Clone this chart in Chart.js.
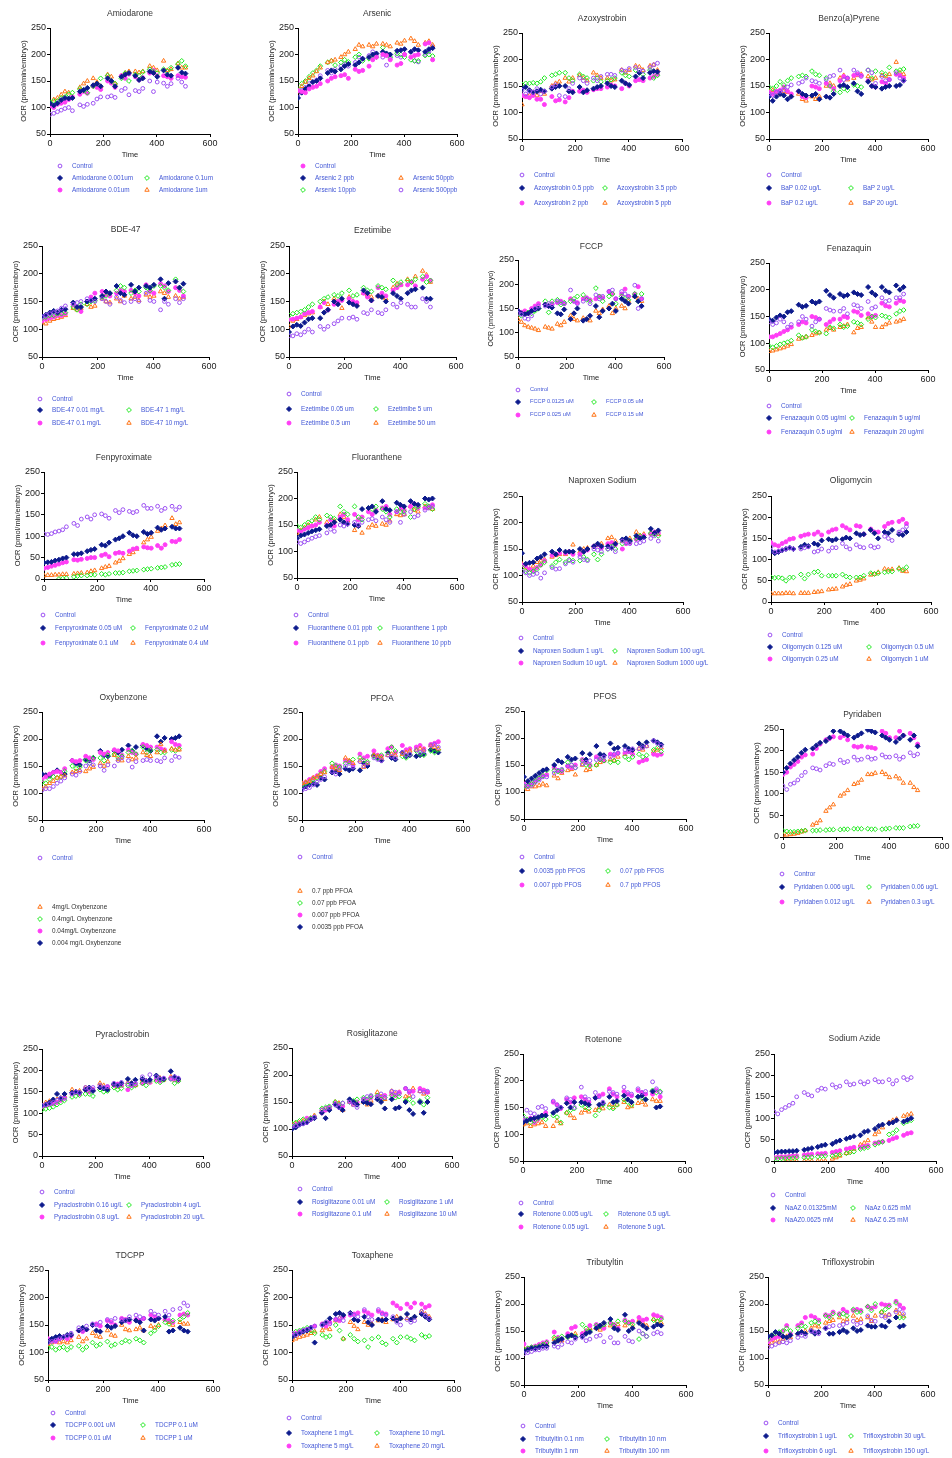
<!DOCTYPE html>
<html>
<head>
<meta charset="utf-8">
<title>OCR by compound</title>
<script src="https://cdn.jsdelivr.net/npm/chart.js@4.4.1/dist/chart.umd.min.js"></script>
<style>
  html, body { margin: 0; padding: 0; background: #fff; overflow: hidden; }
  #page { position: relative; width: 952px; height: 1458px; font-family: 'Liberation Sans', Arial, sans-serif; }
  canvas.plot { position: absolute; }
  .ttl { position: absolute; font-size: 8.5px; color: #333; transform: translate(-50%, -50%); white-space: nowrap; }
  .lg { position: absolute; font-size: 6.4px; color: #4257d6; transform: translateY(-50%); white-space: nowrap; line-height: 1; }
  #marks { position: absolute; left: 0; top: 0; }
</style>
</head>
<body>
<div id="page"><canvas id="marks" width="952" height="1458"></canvas></div>
<script>
'use strict';

// shared time points (min)
const T = [0, 14, 28, 42, 56, 70, 84, 112, 126, 140, 162, 176, 190, 216, 230, 244,
  268, 282, 296, 320, 334, 348, 374, 388, 402, 426, 440, 454, 480, 494, 508];
const xTicks = [0, 200, 400, 600];

// series order in every panel: legend row1, row2 left, row2 right, row3 left, row3 right
const amiodaroneNames = ['Control', 'Amiodarone 0.001um', 'Amiodarone 0.1um', 'Amiodarone 0.01um', 'Amiodarone 1um'];
const amiodaroneY = [
  [87,89,92,95,98,100,94, 105,102,106, 108,116,120, 120,122,119, 132,136,124, 132,130,136, 150,130,148, 146,140,145, 155,148,140],
  [108,104,108,114,118,117,118, 130,133,137, 142,145,140, 155,150,140, 158,162,165, 160,152,155, 168,165,158, 170,162,160, 175,166,164],
  [110,112,112,118,120,125,128, 135,132,128, 140,145,155, 160,150,145, 155,165,150, 162,160,167, 172,168,165, 172,168,175, 182,188,178],
  [103,100,106,108,110,115,120, 125,130,127, 140,138,134, 150,146,138, 160,155,163, 158,152,156, 165,170,160, 160,158,155, 160,158,157],
  [108,115,118,124,130,128,120, 138,145,150, 155,148,140, 162,158,145, 160,165,168, 168,166,168, 178,175,170, 188,170,172, 183,175,175]
];

const arsenicNames = ['Control', 'Arsenic 2 ppb', 'Arsenic 50ppb', 'Arsenic 10ppb', 'Arsenic 500ppb'];
const arsenicY = [
  [132,130,128,135,138,140,145, 150,155,158, 160,162,155, 172,168,170, 178,190,195, 200,198,190, 180,183,200, 195,198,200, 220,222,190],
  [118,128,135,140,148,150,155, 165,170,168, 172,178,182, 180,185,192, 195,200,202, 205,202,200, 207,208,210, 205,210,208, 205,210,212],
  [130,140,148,155,160,168,175, 185,188,190, 195,200,205, 210,218,215, 218,215,220, 220,218,215, 222,220,226, 230,225,218, 222,225,218],
  [135,145,150,158,165,170,178, 185,188,180, 185,190,186, 195,200,188, 192,198,195, 213,200,195, 202,200,195, 190,188,188, 198,200,197],
  [125,132,138,145,148,152,160, 170,165,172, 178,182,178, 185,195,192, 198,205,200, 195,180,192, 198,195,200, 205,188,186, 200,205,215]
];

const azoxystrobinNames = ['Control', 'Azoxystrobin 0.5 ppb', 'Azoxystrobin 3.5 ppb', 'Azoxystrobin 2 ppb', 'Azoxystrobin 5 ppb'];
const azoxystrobinY = [
  [142,135,140,138,145,135,140, 148,152,132, 130,145,155, 165,160,155, 165,160,168, 172,172,170, 180,178,183, 185,180,178, 185,190,193],
  [145,148,142,138,140,143,140, 145,148,150, 150,140,138, 148,138,142, 145,148,150, 155,150,148, 160,155,152, 168,175,165, 175,178,177],
  [153,155,155,156,155,158,165, 170,172,175, 175,165,160, 172,168,165, 160,165,158, 160,162,165, 175,170,168, 180,175,172, 180,165,170],
  [132,130,128,132,125,125,115, 130,122,124, 120,128,140, 140,142,138, 143,145,145, 148,152,150, 145,155,150, 160,162,160, 165,168,172],
  [115,130,132,138,132,140,135, 150,155,158, 165,158,165, 170,165,160, 175,170,165, 165,160,162, 180,175,180, 188,186,180, 188,190,180]
];

const benzopyreneNames = ['Control', 'BaP 0.02 ug/L', 'BaP 2 ug/L', 'BaP 0.2 ug/L', 'BaP 20 ug/L'];
const benzopyreneY = [
  [135,132,138,140,142,148,152, 155,158,165, 160,158,155, 162,168,170, 180,162,165, 180,175,168, 180,175,155, 168,160,162, 175,165,160],
  [130,122,130,135,132,125,130, 140,135,132, 132,135,125, 130,128,135, 150,152,148, 155,140,135, 158,150,148, 145,148,150, 150,152,160],
  [148,145,150,158,152,160,165, 168,170,168, 178,172,170, 165,150,140, 138,145,142, 152,150,148, 180,165,178, 175,172,185, 178,180,182],
  [138,135,140,142,148,140,135, 140,130,128, 150,148,145, 155,150,145, 160,168,165, 170,172,170, 160,150,148, 158,155,162, 172,170,165],
  [140,142,138,135,140,138,132, 135,125,122, 130,125,130, 150,155,150, 165,170,162, 165,170,172, 168,162,165, 170,168,172, 195,175,172]
];

const bde47Names = ['Control', 'BDE-47 0.01 mg/L', 'BDE-47 1 mg/L', 'BDE-47 0.1 mg/L', 'BDE-47 10 mg/L'];
const bde47Y = [
  [122,125,128,130,133,138,142, 145,148,150, 155,152,150, 155,150,145, 158,152,148, 150,155,150, 165,152,150, 135,150,145, 155,148,155],
  [123,126,130,133,130,135,136, 148,140,140, 150,152,155, 160,168,165, 178,165,162, 180,168,175, 178,175,180, 190,155,183, 186,175,182],
  [120,122,125,125,128,128,130, 140,135,145, 145,150,152, 158,160,165, 170,178,175, 165,170,168, 175,170,178, 178,175,170, 190,175,168],
  [115,118,120,122,125,125,128, 145,140,132, 150,158,165, 168,162,160, 165,170,168, 170,165,160, 180,168,165, 182,178,168, 175,170,160],
  [112,110,115,118,120,122,125, 138,135,138, 145,140,142, 155,150,148, 155,150,160, 155,158,152, 162,158,160, 168,165,158, 160,155,158]
];

const ezetimibeNames = ['Control', 'Ezetimibe 0.05 um', 'Ezetimibe 5 um', 'Ezetimibe 0.5 um', 'Ezetimibe 50 um'];
const ezetimibeY = [
  [88,88,92,90,95,100,95, 105,100,105, 110,115,120, 120,122,118, 130,128,135, 130,128,135, 145,140,148, 145,140,140, 155,150,140],
  [95,105,108,106,112,118,120, 120,130,135, 150,145,155, 148,145,142, 170,165,152, 160,158,150, 165,160,155, 165,170,172, 175,155,155],
  [125,128,130,132,135,140,145, 150,155,158, 162,160,165, 170,160,162, 175,170,168, 178,175,172, 188,180,185, 188,185,190, 195,185,188],
  [118,118,120,122,128,130,132, 140,148,135, 145,150,152, 155,150,148, 165,158,152, 175,165,160, 170,175,180, 180,185,178, 190,195,188],
  [105,115,118,122,125,128,130, 140,150,145, 155,148,138, 158,150,145, 165,162,158, 160,158,155, 175,182,180, 190,185,195, 205,198,185]
];

const fccpNames = ['Control', 'FCCP 0.0125 uM', 'FCCP 0.05 uM', 'FCCP 0.025 uM', 'FCCP 0.15 uM'];
const fccpY = [
  [140,138,130,128,135,150,155, 155,160,158, 165,162,160, 188,165,160, 165,170,160, 178,170,175, 185,188,170, 185,180,175, 198,150,170],
  [145,140,138,140,145,148,150, 158,155,152, 140,138,148, 128,140,150, 125,128,135, 155,132,145, 150,160,145, 170,165,160, 175,165,155],
  [140,135,138,142,140,145,150, 165,142,165, 168,158,162, 165,170,175, 178,168,165, 192,175,165, 175,180,160, 175,170,168, 180,165,180],
  [145,142,145,140,150,155,160, 158,155,160, 162,165,160, 170,165,162, 170,172,168, 170,175,172, 185,180,170, 180,190,175, 180,195,170],
  [128,122,115,112,110,108,105, 112,110,108, 118,115,122, 135,128,125, 130,128,125, 145,140,148, 155,140,150, 155,150,165, 175,170,165]
];

const fenazaquinNames = ['Control', 'Fenazaquin 0.05 ug/ml', 'Fenazaquin 5 ug/ml', 'Fenazaquin 0.5 ug/ml', 'Fenazaquin 20 ug/ml'];
const fenazaquinY = [
  [140,135,138,145,140,130,135, 140,150,145, 132,140,145, 165,162,160, 160,165,155, 172,170,165, 178,165,168, 185,178,180, 185,185,192],
  [145,142,148,152,150,158,160, 172,168,170, 178,175,178, 198,190,185, 192,188,190, 195,192,190, 205,195,190, 205,198,195, 208,200,205],
  [95,92,95,98,100,102,105, 115,110,112, 125,122,120, 118,130,128, 135,130,132, 140,138,135, 145,150,148, 152,150,148, 155,160,162],
  [112,112,115,118,122,125,130, 135,140,138, 150,148,145, 135,140,145, 145,150,148, 160,158,152, 155,150,152, 175,170,168, 175,180,178],
  [85,86,88,90,92,95,98, 108,110,112, 115,118,120, 125,128,125, 130,132,135, 120,128,130, 148,140,130, 130,135,138, 140,142,145]
];

const fenpyroximateNames = ['Control', 'Fenpyroximate 0.05 uM', 'Fenpyroximate 0.2 uM', 'Fenpyroximate 0.1 uM', 'Fenpyroximate 0.4 uM'];
const fenpyroximateY = [
  [105,104,106,110,112,115,122, 130,125,140, 145,140,150, 152,148,142, 160,155,162, 158,155,158, 172,165,165, 170,160,165, 170,162,168],
  [38,39,40,43,45,48,50, 58,58,60, 65,68,70, 80,78,85, 92,95,100, 108,102,100, 110,105,108, 120,115,118, 122,118,118],
  [null,null,null,null,0,1,2, 5,7,8, 8,10,10, 12,10,12, 14,14,15, 18,19,20, 22,23,24, 26,27,28, 33,34,35],
  [25,27,30,32,35,38,40, 45,44,46, 48,50,50, 55,58,52, 60,62,60, 65,70,72, 75,73,72, 78,72,80, 88,87,92],
  [8,9,9,10,10,11,11, 12,13,14, 15,18,20, 25,28,30, 38,42,48, 58,62,70, 85,92,98, 112,118,125, 142,128,132]
];

const fluorantheneNames = ['Control', 'Fluoranthene 0.01 ppb', 'Fluoranthene 1 ppb', 'Fluoranthene 0.1 ppb', 'Fluoranthene 10 ppb'];
const fluorantheneY = [
  [118,115,118,122,125,128,130, 135,142,138, 150,148,152, 155,150,155, 160,162,158, 165,160,155, 175,155,170, 175,165,168, 178,182,185],
  [125,130,132,135,138,140,142, 148,150,155, 160,155,152, 150,148,180, 182,185,175, 195,180,178, 192,188,185, 195,190,188, 200,198,200],
  [148,145,150,155,158,165,160, 168,165,162, 185,175,170, 185,165,160, 182,180,185, 180,175,165, 180,175,175, 165,180,185, 190,185,180],
  [140,138,142,145,148,150,155, 150,160,148, 165,170,160, 170,160,165, 175,170,178, 182,185,170, 175,180,178, 185,190,182, 182,185,188],
  [135,140,145,150,148,160,165, 155,150,158, 170,165,158, 140,148,135, 145,150,148, 152,150,158, 170,168,170, 185,178,175, 185,182,180]
];

const naproxenNames = ['Control', 'Naproxen Sodium 1 ug/L', 'Naproxen Sodium 100 ug/L', 'Naproxen Sodium 10 ug/L', 'Naproxen Sodium 1000 ug/L'];
const naproxenY = [
  [108,105,100,102,104,95,105, 115,112,113, 122,128,125, 135,130,128, 150,148,145, 150,152,145, 165,162,160, 160,162,165, 170,175,165],
  [142,122,124,125,132,135,140, 145,140,148, 145,145,145, 150,145,150, 155,160,155, 155,152,160, 168,170,165, 175,170,172, 188,180,185],
  [115,108,105,108,112,120,125, 118,125,130, 125,130,128, 128,135,130, 140,130,140, 150,155,150, 160,162,165, 170,175,172, 180,178,175],
  [120,118,112,110,115,120,128, 138,140,142, 142,145,140, 140,145,148, 155,158,152, 160,162,158, 150,160,162, 168,172,175, 178,182,180],
  [122,115,112,118,125,128,130, 135,138,140, 140,145,158, 145,150,152, 155,158,160, 170,172,165, 165,168,170, 182,175,178, 180,178,178]
];

const oligomycinNames = ['Control', 'Oligomycin  0.125 uM', 'Oligomycin 0.5 uM', 'Oligomycin 0.25 uM', 'Oligomycin 1 uM'];
const oligomycinY = [
  [130,118,120,122,125,128,125, 125,128,130, 118,120,125, 120,128,128, 138,130,125, 135,130,128, 132,128,130, 155,150,145, 165,170,178],
  [120,115,118,122,125,128,125, 130,135,132, 138,135,145, 148,145,148, 148,152,150, 162,158,160, 170,162,150, 165,162,170, 160,158,165],
  [58,57,58,56,50,58,58, 65,55,65, 70,72,62, 62,62,62, 65,60,58, 58,58,62, 68,66,68, 70,72,72, 78,76,82],
  [140,135,132,138,142,148,150, 155,158,160, 160,165,158, 165,170,172, 180,175,170, 180,178,160, 172,165,165, 178,185,188, 190,195,185],
  [20,20,20,20,21,21,20, 21,21,21, 23,24,25, 29,30,31, 36,40,42, 50,52,55, 64,66,70, 78,76,77, 80,73,72]
];

// vertical legends: control, then the four doses top to bottom
const oxybenzoneNames = ['Control', '4mg/L Oxybenzone', '0.4mg/L Oxybenzone', '0.04mg/L Oxybenzone', '0.004 mg/L Oxybenzone'];
const oxybenzoneY = [
  [105,108,108,112,118,122,128, 135,133,140, 150,155,152, 150,142,152, 150,160,165, 160,148,158, 160,162,160, 160,158,165, 160,168,166],
  [108,112,118,122,128,130,132, 138,140,142, 140,145,148, 155,150,158, 170,162,160, 168,162,165, 175,170,168, 175,190,178, 182,180,180],
  [120,118,125,130,128,130,140, 150,145,148, 160,155,165, 165,160,170, 172,165,168, 175,178,172, 185,175,180, 180,175,175, 180,178,182],
  [125,130,135,138,140,138,145, 160,158,160, 168,165,162, 175,172,175, 180,178,170, 180,175,172, 190,188,185, 185,182,180, 195,190,188],
  [135,133,132,138,142,138,135, 160,155,152, 162,160,165, 178,170,168, 178,175,180, 188,178,185, 188,182,178, 205,195,202, 200,202,205]
];

const pfoaNames = ['Control', '0.7 ppb PFOA', '0.07 ppb PFOA', '0.007 ppb PFOA', '0.0035 ppb PFOA'];
const pfoaY = [
  [105,108,110,115,120,125,130, 140,135,145, 150,155,148, 158,150,155, 165,162,160, 170,168,165, 175,170,172, 180,175,178, 188,190,185],
  [118,120,122,128,130,135,138, 148,145,142, 165,160,155, 160,148,155, 170,168,165, 170,172,170, 172,175,178, 180,182,180, 188,185,182],
  [115,118,120,125,128,135,140, 155,150,148, 155,158,162, 165,160,158, 168,165,170, 175,185,178, 168,165,172, 178,172,170, 178,175,180],
  [118,120,125,128,132,140,145, 148,152,150, 160,158,152, 172,165,168, 178,170,168, 182,185,175, 188,180,182, 185,188,182, 190,192,195],
  [108,112,115,118,115,128,125, 138,140,135, 145,142,145, 142,155,150, 170,165,160, 175,165,162, 175,168,170, 168,170,172, 180,178,175]
];

const pfosNames = ['Control', '0.0035 ppb PFOS', '0.07 ppb PFOS', '0.007 ppb PFOS', '0.7 ppb PFOS'];
const pfosY = [
  [112,110,112,118,122,128,128, 135,140,142, 148,150,145, 152,155,158, 160,162,165, 165,170,172, 178,175,180, 180,182,185, 195,190,185],
  [128,120,125,130,135,140,142, 150,158,155, 165,160,162, 172,160,170, 185,170,168, 190,180,182, 185,180,178, 190,185,192, 195,192,188],
  [110,112,115,120,125,130,140, 140,138,140, 155,150,145, 158,150,148, 150,160,158, 155,158,155, 165,160,165, 170,165,168, 178,182,175],
  [115,112,115,120,125,130,132, 145,140,138, 148,145,150, 160,155,150, 165,160,158, 170,168,172, 172,175,170, 155,158,160, 170,168,170],
  [108,105,110,110,112,115,112, 130,125,135, 140,142,132, 150,140,142, 150,155,158, 160,158,165, 170,175,178, 180,178,185, 175,178,182]
];

const pyridabenNames = ['Contror', 'Pyridaben 0.006 ug/L', 'Pyridaben 0.06 ug/L', 'Pyridaben 0.012 ug/L', 'Pyridaben 0.3 ug/L'];
const pyridabenY = [
  [118,110,122,125,132,142,150, 160,158,155, 165,170,168, 178,172,175, 185,178,180, 185,180,182, 190,185,185, 188,180,185, 195,188,192],
  [150,160,170,178,185,195,202, 205,212,218, 222,230,245, 245,240,235, 230,235,240, 248,245,242, 235,230,225, 220,228,235, 225,235,210],
  [14,13,12,12,13,14,15, 15,15,16, 16,17,17, 17,18,18, 19,19,19, 19,18,18, 18,19,20, 21,21,21, 24,25,26],
  [145,150,162,168,175,185,190, 192,205,215, 225,228,232, 230,235,225, 210,208,210, 208,207,205, 245,240,230, 230,245,235, 240,230,215],
  [5,5,6,7,9,12,15, 28,32,38, 60,68,75, 95,100,108, 122,125,132, 145,145,148, 150,145,138, 140,135,125, 125,115,108]
];

const pyraclostrobinNames = ['Control', 'Pyraclostrobin 0.16 ug/L', 'Pyraclostrobin 4 ug/L', 'Pyraclostrobin 0.8 ug/L', 'Pyraclostrobin 20 ug/L'];
const pyraclostrobinY = [
  [118,120,122,125,130,135,135, 145,150,148, 160,158,160, 165,160,162, 170,165,172, 168,165,170, 185,175,190, 185,180,182, 180,185,182],
  [118,120,125,132,145,135,145, 148,150,148, 155,160,152, 160,158,155, 168,165,170, 180,170,178, 180,175,178, 188,180,180, 198,185,180],
  [108,110,112,115,120,125,130, 138,140,142, 145,145,140, 155,150,152, 160,155,158, 165,160,165, 170,165,175, 175,172,178, 180,170,175],
  [115,118,120,122,125,130,135, 145,148,145, 155,150,155, 160,158,162, 165,168,165, 155,165,168, 170,175,172, 178,175,180, 182,178,176],
  [115,125,128,130,132,135,140, 155,150,152, 160,158,155, 170,165,160, 168,162,165, 172,170,165, 178,175,172, 180,182,178, 185,178,180]
];

const rosiglitazoneNames = ['Control', 'Rosiglitazone 0.01 uM', 'Rosiglitazone 1 uM', 'Rosiglitazone 0.1 uM', 'Rosiglitazone 10 uM'];
const rosiglitazoneY = [
  [105,106,108,110,112,118,122, 135,138,140, 145,140,148, 150,145,140, 155,160,162, 160,165,158, 170,168,165, 175,170,160, 170,168,170],
  [100,103,108,110,112,118,120, 130,120,135, 145,140,135, 155,150,145, 150,148,146, 155,150,138, 155,138,140, 150,135,128, 150,130,150],
  [110,112,115,118,115,120,122, 138,140,142, 150,145,148, 150,152,155, 158,155,160, 162,155,158, 162,158,160, 152,155,148, 152,145,158],
  [105,108,110,112,120,118,122, 130,135,138, 148,145,142, 152,148,150, 155,152,158, 160,158,162, 165,162,168, 175,168,170, 175,172,168],
  [108,110,112,115,118,120,125, 135,138,140, 150,148,135, 150,145,148, 150,145,152, 168,160,155, 170,165,168, 160,162,175, 170,165,168]
];

const rotenoneNames = ['Control', 'Rotenone 0.005 ug/L', 'Rotenone 0.5 ug/L', 'Rotenone 0.05 ug/L', 'Rotenone 5 ug/L'];
const rotenoneY = [
  [130,145,140,138,150,152,148, 162,155,150, 168,165,150, 188,170,165, 178,170,160, 180,178,175, 188,178,175, 185,178,180, 198,185,178],
  [122,125,128,130,132,135,135, 140,145,150, 158,150,160, 160,158,155, 168,155,158, 170,160,162, 172,165,160, 170,172,165, 180,150,152],
  [135,128,122,125,130,132,128, 135,132,122, 140,145,148, 155,150,148, 135,145,155, 150,148,155, 165,160,155, 170,168,165, 182,178,180],
  [128,125,130,122,128,135,140, 160,155,148, 165,160,168, 170,165,160, 168,172,175, 185,175,170, 180,175,172, 182,178,175, 175,182,170],
  [118,120,115,118,120,122,115, 115,125,120, 140,135,130, 140,145,142, 145,150,148, 155,150,155, 160,150,152, 158,160,155, 165,162,162]
];

const sodiumAzideNames = ['Control', 'NaAZ 0.01325mM', 'NaAz 0.625 mM', 'NaAZ0.0625 mM', 'NaAZ 6.25 mM'];
const sodiumAzideY = [
  [115,110,120,125,130,135,150, 160,155,152, 165,170,168, 178,172,175, 185,178,180, 185,180,185, 190,185,185, 190,180,188, 195,190,195],
  [20,21,22,22,23,23,24, 26,28,30, 33,36,38, 40,45,48, 52,55,58, 60,68,70, 75,82,85, 88,90,95, 92,96,100],
  [5,5,6,6,7,7,8, 8,9,9, 10,11,12, 12,14,15, 18,20,22, 28,30,32, 38,42,45, 62,65,72, 88,92,95],
  [8,9,10,10,11,12,12, 14,15,16, 17,17,18, 20,22,24, 28,30,32, 32,34,36, 42,44,45, 48,52,55, 60,64,66],
  [null,null,null,0,0,0,0, 0,0,0, 0,0,0, 5,8,12, 18,22,28, 38,42,48, 62,68,78, 90,95,98, 105,108,110]
];

const tdcppNames = ['Control', 'TDCPP 0.001 uM', 'TDCPP 0.1 uM', 'TDCPP 0.01 uM', 'TDCPP 1 uM'];
const tdcppY = [
  [118,120,122,125,128,130,135, 145,140,148, 152,150,155, 160,158,162, 160,158,165, 168,165,162, 175,170,168, 175,168,178, 180,190,185],
  [120,125,128,130,128,132,132, 140,145,142, 150,140,138, 148,145,148, 155,158,160, 158,155,140, 160,158,162, 165,138,140, 145,140,138],
  [108,110,105,108,110,105,110, 112,105,110, 118,112,115, 120,112,115, 118,122,120, 125,122,118, 135,140,148, 155,152,158, 160,165,172],
  [125,122,120,125,128,125,130, 140,138,142, 150,152,148, 158,155,150, 162,160,155, 160,158,162, 168,165,162, 160,158,155, 168,170,168],
  [115,118,120,118,120,118,122, 128,120,125, 135,130,128, 140,132,130, 150,142,140, 142,145,140, 148,145,150, 160,155,150, 155,152,152]
];

const toxapheneNames = ['Control', 'Toxaphene 1 mg/L', 'Toxaphene 10 mg/L', 'Toxaphene 5 mg/L', 'Toxaphene 20 mg/L'];
const toxapheneY = [
  [135,132,135,140,142,145,148, 150,155,152, 160,162,158, 170,168,165, 178,165,160, 178,170,168, 165,155,150, 160,155,158, 175,168,162],
  [128,132,135,138,140,145,118, 150,155,162, 170,172,168, 172,160,158, 165,155,150, 160,158,160, 162,158,162, 170,160,165, 170,165,160],
  [135,138,140,142,145,140,135, 132,128,130, 150,140,125, 132,125,120, 122,110,125, 128,118,115, 125,118,128, 128,125,122, 132,128,130],
  [132,135,138,140,142,145,148, 152,148,155, 160,158,165, 168,170,172, 175,172,168, 175,172,170, 190,185,180, 188,182,190, 188,182,185],
  [122,125,128,130,132,135,138, 140,145,142, 158,162,125, 155,148,142, 155,150,152, 158,160,155, 160,165,162, 162,160,165, 175,170,165]
];

const tributyltinNames = ['Control', 'Tributyltin 0.1 nm', 'Tributyltin 10 nm', 'Tributyltin 1 nm', 'Tributyltin 100 nm'];
const tributyltinY = [
  [108,110,112,115,115,118,118, 122,120,125, 130,128,135, 138,132,135, 140,142,130, 138,128,128, 140,132,130, 150,145,140, 145,148,145],
  [112,115,118,118,120,122,122, 128,132,135, 140,142,138, 140,145,148, 155,160,165, 172,155,152, 180,150,155, 165,160,155, 158,162,160],
  [115,118,120,120,122,125,128, 138,135,140, 138,142,140, 162,155,150, 160,158,162, 165,160,168, 168,165,162, 135,145,140, 170,168,172],
  [126,118,120,122,125,128,130, 148,138,135, 145,155,158, 145,150,160, 162,158,155, 165,162,155, 170,165,168, 175,170,172, 180,178,175],
  [118,115,118,120,122,125,125, 135,132,132, 140,142,145, 145,150,155, 155,152,160, 160,158,162, 160,165,158, 170,165,160, 172,168,165]
];

const trifloxystrobinNames = ['Control', 'Trifloxystrobin 1 ug/L', 'Trifloxystrobin 30 ug/L', 'Trifloxystrobin 6 ug/L', 'Trifloxystrobin 150 ug/L'];
const trifloxystrobinY = [
  [120,122,125,128,130,128,132, 138,142,140, 150,148,145, 155,158,160, 160,162,165, 168,162,165, 178,170,168, 178,175,180, 185,190,182],
  [140,142,148,145,140,138,142, 145,148,145, 150,145,148, 155,145,145, 148,152,148, 155,150,152, 160,158,158, 160,158,168, 175,158,160],
  [135,142,145,148,150,155,150, 155,160,158, 165,168,165, 178,175,182, 180,182,178, 190,185,185, 195,188,200, 185,190,195, 202,175,175],
  [130,135,138,140,150,160,145, 160,165,175, 178,175,170, 180,178,185, 182,190,185, 188,190,188, 195,192,195, 200,198,198, 205,198,192],
  [125,128,132,130,135,140,138, 145,148,150, 155,160,158, 165,168,170, 175,168,172, 178,170,172, 175,168,178, 185,178,180, 188,182,178]
];

// marker styles: c purple open circle, n navy diamond, g green open diamond, m magenta dot, o orange open triangle
const MARKS = {
  c: { pointStyle: 'circle', radius: 1.9, fill: 'rgba(0,0,0,0)', stroke: '#9b4ff2' },
  n: { pointStyle: 'rectRot', radius: 2.5, fill: '#0c1a8c', stroke: '#0c1a8c' },
  g: { pointStyle: 'rectRot', radius: 2.4, fill: 'rgba(0,0,0,0)', stroke: '#1fe81f' },
  m: { pointStyle: 'circle', radius: 2, fill: '#ff3df5', stroke: '#ff3df5' },
  o: { pointStyle: 'triangle', radius: 2.5, fill: 'rgba(0,0,0,0)', stroke: '#ff7417' }
};
const STD = ['c', 'n', 'g', 'm', 'o'];

// layout: plot box [left, right, top, bottom], title y, legend anchors
const panels = [
  { title: 'Amiodarone', names: amiodaroneNames, ys: amiodaroneY, marks: STD, box: [50, 210, 27.7, 134], ymin: 50, ty: 13, lg: [60, 147, [166, 178, 190]] },
  { title: 'Arsenic', names: arsenicNames, ys: arsenicY, marks: ['m', 'n', 'o', 'g', 'c'], box: [297.7, 456.7, 27.7, 134], ymin: 50, ty: 13, lg: [303, 401, [166, 178, 190]] },
  { title: 'Azoxystrobin', names: azoxystrobinNames, ys: azoxystrobinY, marks: STD, box: [522.3, 682, 33, 139.3], ymin: 50, ty: 17.7, lg: [522, 605, [175, 188, 203]] },
  { title: 'Benzo(a)Pyrene', names: benzopyreneNames, ys: benzopyreneY, marks: STD, box: [769.3, 928.7, 33, 139.3], ymin: 50, ty: 17.7, lg: [769, 851, [175, 188, 203]] },
  { title: 'BDE-47', names: bde47Names, ys: bde47Y, marks: STD, box: [42, 209.3, 245.7, 356.7], ymin: 50, ty: 229, lg: [40, 129, [399, 410, 423]] },
  { title: 'Ezetimibe', names: ezetimibeNames, ys: ezetimibeY, marks: STD, box: [289.3, 456, 245.7, 356.7], ymin: 50, ty: 230, lg: [289, 376, [394, 409, 423]] },
  { title: 'FCCP', names: fccpNames, ys: fccpY, marks: STD, box: [518.3, 664.3, 260, 356.7], ymin: 50, ty: 246, lg: [518, 594, [390, 402, 415]], small: true },
  { title: 'Fenazaquin', names: fenazaquinNames, ys: fenazaquinY, marks: STD, box: [769.3, 928.7, 262.7, 370], ymin: 50, ty: 248, lg: [769, 852, [406, 418, 432]] },
  { title: 'Fenpyroximate', names: fenpyroximateNames, ys: fenpyroximateY, marks: STD, box: [43.7, 204, 471.7, 578.3], ymin: 0, ty: 456.7, lg: [43, 133, [615, 628, 643]] },
  { title: 'Fluoranthene', names: fluorantheneNames, ys: fluorantheneY, marks: STD, box: [297, 456.7, 472.3, 578.3], ymin: 50, ty: 456.7, lg: [296, 380, [615, 628, 643]] },
  { title: 'Naproxen Sodium', names: naproxenNames, ys: naproxenY, marks: STD, box: [522, 682.7, 496, 602.3], ymin: 50, ty: 480.3, lg: [521, 615, [638, 651, 663]] },
  { title: 'Oligomycin', names: oligomycinNames, ys: oligomycinY, marks: STD, box: [770.7, 931, 496, 602.3], ymin: 0, ty: 480.3, lg: [770, 869, [635, 647, 659]] },
  { title: 'Oxybenzone', names: oxybenzoneNames, ys: oxybenzoneY, marks: ['c', 'o', 'g', 'm', 'n'], box: [42.3, 204.3, 712.3, 820], ymin: 50, ty: 697, vlg: [40, [858, 907, 919, 931, 943]] },
  { title: 'PFOA', names: pfoaNames, ys: pfoaY, marks: ['c', 'o', 'g', 'm', 'n'], box: [301.7, 462.3, 712.3, 820], ymin: 50, ty: 697.7, vlg: [300, [857, 891, 903, 915, 927]] },
  { title: 'PFOS', names: pfosNames, ys: pfosY, marks: STD, box: [524.3, 686, 710.7, 819], ymin: 50, ty: 695.7, lg: [522, 608, [857, 871, 885]] },
  { title: 'Pyridaben', names: pyridabenNames, ys: pyridabenY, marks: STD, box: [782.7, 942, 729.3, 837.7], ymin: 0, ty: 713.7, lg: [782, 869, [874, 887, 902]] },
  { title: 'Pyraclostrobin', names: pyraclostrobinNames, ys: pyraclostrobinY, marks: STD, box: [42, 202.7, 1049, 1156], ymin: 0, ty: 1034, lg: [42, 129, [1192, 1205, 1217]] },
  { title: 'Rosiglitazone', names: rosiglitazoneNames, ys: rosiglitazoneY, marks: STD, box: [292.3, 452.3, 1048.3, 1156], ymin: 50, ty: 1033.3, lg: [300, 387, [1189, 1202, 1214]] },
  { title: 'Rotenone', names: rotenoneNames, ys: rotenoneY, marks: STD, box: [522.7, 684.3, 1054.3, 1161.7], ymin: 50, ty: 1038.7, lg: [521, 606, [1203, 1214, 1227]] },
  { title: 'Sodium Azide', names: sodiumAzideNames, ys: sodiumAzideY, marks: STD, box: [773.7, 935.3, 1054.3, 1161.7], ymin: 0, ty: 1038, lg: [773, 853, [1195, 1208, 1220]] },
  { title: 'TDCPP', names: tdcppNames, ys: tdcppY, marks: STD, box: [47.7, 212.3, 1270, 1380], ymin: 50, ty: 1255, lg: [53, 143, [1413, 1425, 1438]] },
  { title: 'Toxaphene', names: toxapheneNames, ys: toxapheneY, marks: STD, box: [291.7, 453.3, 1270, 1380], ymin: 50, ty: 1255, lg: [289, 377, [1418, 1433, 1446]] },
  { title: 'Tributyltin', names: tributyltinNames, ys: tributyltinY, marks: STD, box: [523.7, 686, 1276.7, 1385], ymin: 50, ty: 1261.7, lg: [523, 607, [1426, 1439, 1451]] },
  { title: 'Trifloxystrobin', names: trifloxystrobinNames, ys: trifloxystrobinY, marks: STD, box: [768.3, 928.3, 1276.7, 1385], ymin: 50, ty: 1261.7, lg: [766, 851, [1423, 1436, 1451]] }
];

const FF = "'Liberation Sans', Arial, sans-serif";
const YW = 31, XH = 25, PT = 8, PR = 12;
const page = document.getElementById('page');
const mctx = document.getElementById('marks').getContext('2d');

function toPoints(ys) {
  return T.map((t, i) => ({ x: t, y: ys[i] })).filter(p => p.y !== null);
}

function drawMark(kind, x, y) {
  const m = MARKS[kind];
  const r = m.radius;
  mctx.save();
  mctx.lineWidth = 1;
  mctx.strokeStyle = m.stroke;
  mctx.fillStyle = m.fill;
  mctx.beginPath();
  if (m.pointStyle === 'circle') {
    mctx.arc(x, y, r, 0, Math.PI * 2);
  } else if (m.pointStyle === 'rectRot') {
    mctx.moveTo(x, y - r); mctx.lineTo(x + r, y); mctx.lineTo(x, y + r); mctx.lineTo(x - r, y);
  } else {
    mctx.moveTo(x, y - r); mctx.lineTo(x + r * 0.87, y + r * 0.5); mctx.lineTo(x - r * 0.87, y + r * 0.5);
  }
  mctx.closePath();
  mctx.fill();
  mctx.stroke();
  mctx.restore();
}

function addText(cls, text, x, y, extra) {
  const d = document.createElement('div');
  d.className = cls;
  d.textContent = text;
  d.style.left = x + 'px';
  d.style.top = y + 'px';
  if (extra) Object.assign(d.style, extra);
  page.appendChild(d);
}

panels.forEach(p => {
  const [L, R, Tp, B] = p.box;
  const w = Math.round(R - L + YW + PR);
  const h = Math.round(B - Tp + PT + XH);
  const cv = document.createElement('canvas');
  cv.className = 'plot';
  cv.width = w; cv.height = h;
  cv.style.left = (L - YW) + 'px';
  cv.style.top = (Tp - PT) + 'px';
  cv.style.width = w + 'px';
  cv.style.height = h + 'px';
  page.appendChild(cv);

  const datasets = p.ys.map((ys, i) => {
    const m = MARKS[p.marks[i]];
    return {
      label: p.names[i],
      data: toPoints(ys),
      pointStyle: m.pointStyle,
      pointRadius: m.radius,
      pointBackgroundColor: m.fill,
      pointBorderColor: m.stroke,
      pointBorderWidth: 1
    };
  });

  new Chart(cv, {
    type: 'scatter',
    data: { datasets },
    options: {
      responsive: false,
      animation: false,
      devicePixelRatio: 1,
      layout: { padding: { top: PT, right: PR, left: 0, bottom: 0 } },
      plugins: { legend: { display: false }, tooltip: { enabled: false } },
      scales: {
        x: {
          type: 'linear', min: 0, max: 600,
          afterBuildTicks: s => { s.ticks = xTicks.map(v => ({ value: v })); },
          afterFit: s => { s.height = XH; },
          ticks: { font: { size: 9, family: FF }, color: '#222', padding: 1, maxRotation: 0, autoSkip: false },
          grid: { drawOnChartArea: false, drawTicks: true, tickLength: 3, color: '#000' },
          border: { color: '#000', width: 1 },
          title: { display: true, text: 'Time', font: { size: 7.5, family: FF }, color: '#222', padding: 0 }
        },
        y: {
          min: p.ymin, max: 250,
          afterFit: s => { s.width = YW; },
          ticks: { stepSize: 50, font: { size: 9, family: FF }, color: '#222', padding: 1, autoSkip: false },
          grid: { drawOnChartArea: false, drawTicks: true, tickLength: 3, color: '#000' },
          border: { color: '#000', width: 1 },
          title: { display: true, text: 'OCR (pmol/min/embryo)', font: { size: p.small ? 7 : 7.5, family: FF }, color: '#222', padding: 0 }
        }
      }
    }
  });

  addText('ttl', p.title, (L + R) / 2, p.ty);

  const fs = p.small ? { fontSize: '5.7px' } : null;
  if (p.lg) {
    const [x1, x2, rows] = p.lg;
    const spots = [[x1, rows[0]], [x1, rows[1]], [x2, rows[1]], [x1, rows[2]], [x2, rows[2]]];
    spots.forEach(([sx, sy], i) => {
      drawMark(p.marks[i], sx, sy);
      addText('lg', p.names[i], sx + 12, sy, fs);
    });
  } else {
    const [sx, rows] = p.vlg;
    rows.forEach((sy, i) => {
      drawMark(p.marks[i], sx, sy);
      addText('lg', p.names[i], sx + 12, sy, i === 0 ? null : { color: '#333' });
    });
  }
});
</script>
</body>
</html>
